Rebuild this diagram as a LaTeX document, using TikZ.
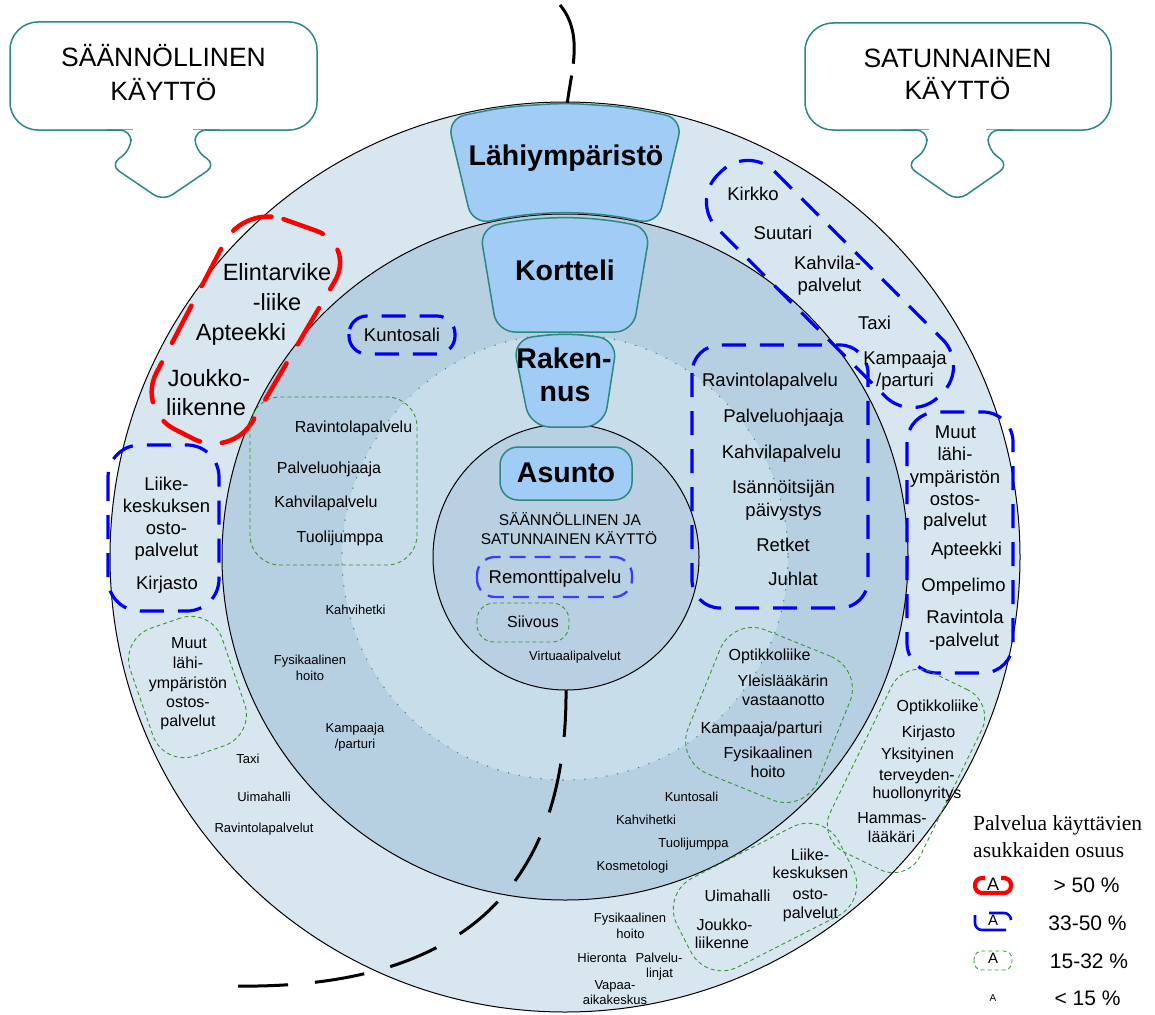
\documentclass[tikz,border=0pt]{standalone}
\usepackage{fontspec}
\setmainfont{Liberation Sans}
\newfontfamily\legserif{Liberation Serif}
\definecolor{ringO}{RGB}{216,230,240}
\definecolor{ringM}{RGB}{182,207,225}
\definecolor{ringI}{RGB}{200,221,234}
\definecolor{ringA}{RGB}{184,208,226}
\definecolor{shapef}{RGB}{160,204,246}
\definecolor{tealb}{RGB}{45,135,130}
\definecolor{dblue}{RGB}{0,0,245}
\definecolor{mblue}{RGB}{60,60,255}
\definecolor{dgreen}{RGB}{55,150,55}
\definecolor{dotteal}{RGB}{60,140,140}
\begin{document}
\begin{tikzpicture}[x=1pt,y=-1pt,
  ring/.style={draw=black, line width=1pt},
  shp/.style={fill=shapef, draw=tealb, line width=1.5pt},
  callout/.style={draw=tealb, line width=1.5pt, fill=white},
  redd/.style={draw=red, line width=4.5pt, dash pattern=on 42pt off 22pt, line cap=round},
  blued/.style={draw=dblue, line width=3.2pt, dash pattern=on 24pt off 14pt},
  greend/.style={draw=dgreen, line width=0.9pt, dash pattern=on 4pt off 3pt},
  blackd/.style={draw=black, line width=3pt, dash pattern=on 50pt off 27pt},
  dotc/.style={draw=dotteal, line width=1.6pt, dash pattern=on 0.01pt off 11pt, line cap=round},
  lbl/.style={inner sep=0pt, text depth=0pt, text=black},
  fS/.style={lbl, font=\fontsize{13}{15}\selectfont, text height=9.3pt},
  fM/.style={lbl, font=\fontsize{16}{18}\selectfont, text height=11.5pt},
  fL/.style={lbl, font=\fontsize{18.5}{21}\selectfont, text height=13.3pt},
  fT/.style={lbl, font=\fontsize{15.5}{18}\selectfont, text height=11.1pt},
  fX/.style={lbl, font=\fontsize{23.5}{26}\selectfont, text height=16.9pt},
  fC/.style={lbl, font=\fontsize{26.5}{30}\selectfont, text height=19pt},
  fB/.style={lbl, font=\fontsize{28.5}{32}\selectfont\bfseries, text height=20.4pt},
  fG/.style={lbl, font=\fontsize{21}{24}\selectfont, text height=15pt}
]
\useasboundingbox (0,0) rectangle (1155,1014);

% ---------- rings
\coordinate (C) at (565,557);
\draw[ring, fill=ringO] (C) circle[radius=455];
\draw[ring, fill=ringM] (C) circle[radius=343];
\fill[ringI] (C) circle[radius=223];
\draw[dotc] (C) circle[radius=223];

% ---------- dashed black line
\draw[blackd] (566,687) .. controls (568,880) and (470,990) .. (233,986);
\draw[blackd, dash pattern=on 62pt off 12pt] (560,5) .. controls (585,35) and (570,75) .. (567,106);

\draw[ring, fill=ringA] (566,557) circle[radius=133];

% ---------- level shapes
\draw[shp, rounded corners=18pt] (447.2,118.5) -- (505.6,106.9) -- (565,103) -- (624.4,106.9) -- (682.8,118.5)
  -- (657.5,224.6) -- (611.7,215.1) -- (565,212) -- (518.3,215.1) -- (472.5,224.6) -- cycle;
\draw[shp, rounded corners=18pt] (479.6,227.9) -- (522.0,219.7) -- (565,217) -- (608,219.7) -- (650.4,227.9)
  -- (633,332) -- (497,332) -- cycle;
\draw[shp, rounded corners=20pt] (512.5,339.2) -- (565,333) -- (617.5,339.2) -- (604,427) -- (530,427) -- cycle;
\node[shp, rounded corners=18pt, minimum width=132pt, minimum height=53pt, inner sep=0pt] (asuntobox) at (566,473.5) {};

\node[fB] (lahi) at (566,155) {Lähiympäristö};
\node[fB] (kort) at (565,270) {Kortteli};
\node[fB] (rak1) at (564,358) {Raken-};
\node[fB] (rak2) at (565,391) {nus};
\node[fB] (asunto) at (566,472) {Asunto};

% ---------- red outline (>50 %)
\draw[redd, rounded corners=42pt] (244,205) -- (356,245) -- (231,458) -- (137,410) -- cycle;

% ---------- blue outlines (33-50 %)
\draw[blued, rounded corners=18pt] (349,316) rectangle (455,354);
\draw[blued, draw=mblue, line width=2.3pt, dash pattern=on 16pt off 9pt, rounded corners=18pt] (477,557) rectangle (632,597);
\draw[blued, rounded corners=28pt] (692,345) rectangle (868,608);
\draw[blued, rounded corners=32pt] (108,445) rectangle (219,611);
\draw[blued, rounded corners=30pt] (907,412) rectangle (1013,673);
\draw[blued, rounded corners=38pt] (747.9,144.7) -- (969.3,366.1) -- (912.1,423.3) -- (690.7,201.9) -- cycle;

% ---------- green outlines (15-32 %)
\draw[greend, rounded corners=30pt] (250,397) rectangle (417,565);
\draw[greend, rounded corners=17pt] (477,603) rectangle (569,642);
\node[greend, rounded corners=33pt, minimum width=97pt, minimum height=135pt, rotate=19] (g1) at (187.5,687) {};
\node[greend, rounded corners=35pt, minimum width=140pt, minimum height=155pt, rotate=-22] (g2) at (769,715) {};
\node[greend, rounded corners=30pt, minimum width=100pt, minimum height=200pt, rotate=-26] (g3) at (906,771) {};
\node[greend, rounded corners=35pt, minimum width=182pt, minimum height=100pt, rotate=27] (g4) at (765,897) {};

% ---------- callouts
\draw[callout, rounded corners=28pt] (10,22) rectangle (317,130);
\fill[white] (133,126) rectangle (193,136);
\draw[callout, rounded corners=11pt] (220,130) -- (195,130) -- (195,150) -- (216,165) -- (163,201) -- (110,165) -- (131,150) -- (131,130) -- (106,130);
\node[fC] (cL1) at (163.5,57.5) {SÄÄNNÖLLINEN};
\node[fC] (cL2) at (163.5,91) {KÄYTTÖ};

\draw[callout, rounded corners=28pt] (805,23) rectangle (1111,130);
\fill[white] (929,126) rectangle (986,136);
\draw[callout, rounded corners=11pt] (1013,130) -- (988,130) -- (988,150) -- (1009,165) -- (957.5,201) -- (906,165) -- (927,150) -- (927,130) -- (902,130);
\node[fC] (cR1) at (957.5,58) {SATUNNAINEN};
\node[fC] (cR2) at (957.5,90) {KÄYTTÖ};

% ---------- outer ring, left
\node[fX] (elin) at (277,272) {Elintarvike};
\node[fX] (liike) at (277,302) {-liike};
\node[fX] (aptL) at (241,332) {Apteekki};
\node[fX] (joukL) at (209,378) {Joukko-};
\node[fX] (liikL) at (206,407) {liikenne};

\node[fL] (lkL1) at (166.5,484) {Liike-};
\node[fL] (lkL2) at (166.5,506) {keskuksen};
\node[fL] (lkL3) at (166.5,528) {osto-};
\node[fL] (lkL4) at (166.5,550) {palvelut};
\node[fL] (kirL) at (167,583) {Kirjasto};

\node[fM] (muL1) at (189,643) {Muut};
\node[fM] (muL2) at (188,663) {lähi-};
\node[fM] (muL3) at (188,683) {ympäristön};
\node[fM] (muL4) at (188,702) {ostos-};
\node[fM] (muL5) at (188,721) {palvelut};

\node[fS] (taxL) at (248,759) {Taxi};
\node[fS] (uimL) at (264,797) {Uimahalli};
\node[fS] (ravL) at (264,828) {Ravintolapalvelut};

% ---------- middle ring, left
\node[fL] (kunt) at (402,335) {Kuntosali};
\node[fM] (gi1) at (353.5,427) {Ravintolapalvelu};
\node[fM] (gi2) at (329,468) {Palveluohjaaja};
\node[fM] (gi3) at (326,502) {Kahvilapalvelu};
\node[fM] (gi4) at (340,537) {Tuolijumppa};
\node[fS] (khL) at (355.5,610) {Kahvihetki};
\node[fS] (fyL1) at (310,660) {Fysikaalinen};
\node[fS] (fyL2) at (310,676) {hoito};
\node[fS] (kaL1) at (355,728) {Kampaaja};
\node[fS] (kaL2) at (355,744) {/parturi};

% ---------- Asunto circle
\node[fT] (as1) at (570,520) {SÄÄNNÖLLINEN JA};
\node[fT] (as2) at (569,539) {SATUNNAINEN KÄYTTÖ};
\node[fL] (remo) at (555,577) {Remonttipalvelu};
\node[fM] (siiv) at (533,622) {Siivous};
\node[fS] (virt) at (575,656) {Virtuaalipalvelut};

% ---------- blue right big
\node[fL] (br1) at (770,380) {Ravintolapalvelu};
\node[fL] (br2) at (783.5,416) {Palveluohjaaja};
\node[fL] (br3) at (781.5,452) {Kahvilapalvelu};
\node[fL] (br4) at (783.5,487) {Isännöitsijän};
\node[fL] (br5) at (783.5,510) {päivystys};
\node[fL] (br6) at (783,545) {Retket};
\node[fL] (br7) at (793,579) {Juhlat};

% ---------- blue right outer
\node[fL] (bo1) at (955.5,432) {Muut};
\node[fL] (bo2) at (955,454) {lähi-};
\node[fL] (bo3) at (955,477) {ympäristön};
\node[fL] (bo4) at (955,499) {ostos-};
\node[fL] (bo5) at (955,520) {palvelut};
\node[fL] (bo6) at (966.5,549) {Apteekki};
\node[fL] (bo7) at (963.5,585) {Ompelimo};
\node[fL] (bo8) at (965,617) {Ravintola};
\node[fL] (bo9) at (964,640) {-palvelut};

% ---------- blue top right
\node[fL] (bt1) at (753,194) {Kirkko};
\node[fL] (bt2) at (783,233) {Suutari};
\node[fL] (bt3) at (827.5,263) {Kahvila-};
\node[fL] (bt4) at (829.5,285) {palvelut};
\node[fL] (bt5) at (874.5,323) {Taxi};
\node[fL] (bt6) at (905,358) {Kampaaja};
\node[fL] (bt7) at (905,380) {/parturi};

% ---------- green right inner
\node[fM] (gr1) at (769.5,655) {Optikkoliike};
\node[fM] (gr2) at (783,681) {Yleislääkärin};
\node[fM] (gr3) at (783.5,700) {vastaanotto};
\node[fM] (gr4) at (761.5,728) {Kampaaja/parturi};
\node[fM] (gr5) at (768,753) {Fysikaalinen};
\node[fM] (gr6) at (768,772) {hoito};

% ---------- green right outer
\node[fM] (go1) at (937.5,706) {Optikkoliike};
\node[fM] (go2) at (928.5,732) {Kirjasto};
\node[fM] (go3) at (917.5,754) {Yksityinen};
\node[fM] (go4) at (917,775) {terveyden-};
\node[fM] (go5) at (917,793) {huollonyritys};
\node[fM] (go6) at (892,818) {Hammas-};
\node[fM] (go7) at (891.5,837) {lääkäri};

% ---------- green bottom
\node[fM] (gb1) at (737.5,896) {Uimahalli};
\node[fM] (gb2) at (724.5,925) {Joukko-};
\node[fM] (gb3) at (722,943) {liikenne};
\node[fM] (gb4) at (810,855) {Liike-};
\node[fM] (gb5) at (810.5,873) {keskuksen};
\node[fM] (gb6) at (810.5,894) {osto-};
\node[fM] (gb7) at (810.5,913) {palvelut};

% ---------- small texts bottom
\node[fS] (sb1) at (691.5,797) {Kuntosali};
\node[fS] (sb2) at (646,820) {Kahvihetki};
\node[fS] (sb3) at (693.5,843) {Tuolijumppa};
\node[fS] (sb4) at (632.5,866) {Kosmetologi};
\node[fS] (sb5) at (630,918) {Fysikaalinen};
\node[fS] (sb6) at (630.5,934) {hoito};
\node[fS] (sb7) at (602,958) {Hieronta};
\node[fS] (sb8) at (659,958) {Palvelu-};
\node[fS] (sb9) at (659.5,973) {linjat};
\node[fS] (sb10) at (615,985) {Vapaa-};
\node[fS] (sb11) at (615,1000) {aikakeskus};

% ---------- legend
\node[lbl, anchor=base west, font=\legserif\fontsize{21.5}{24}\selectfont] (lt1) at (973,830) {Palvelua käyttävien};
\node[lbl, anchor=base west, font=\legserif\fontsize{21.5}{24}\selectfont] (lt2) at (973,857) {asukkaiden osuus};

\draw[red, line width=4.2pt, rounded corners=7pt] (985,878) -- (975,878) -- (975,893) -- (1011,893) -- (1011,878) -- (1001,878);
\draw[dblue, line width=2.6pt, rounded corners=7pt] (975,915) -- (975,930) -- (1006,930);
\draw[dblue, line width=2.6pt, rounded corners=7pt] (989,913) -- (1011,913) -- (1011,920);
\draw[greend, rounded corners=8pt] (974,951) rectangle (1012,970);

\node[lbl, font=\fontsize{18}{20}\selectfont, text height=13pt] (la1) at (993,884) {A};
\node[lbl, font=\fontsize{15}{17}\selectfont, text height=10.8pt] (la2) at (993,920) {A};
\node[lbl, font=\fontsize{15}{17}\selectfont, text height=10.8pt] (la3) at (993,958) {A};
\node[lbl, font=\fontsize{10}{12}\selectfont, text height=7.2pt] (la4) at (993,998) {A};

\node[fG] (lp1) at (1086.5,885) {> 50 \%};
\node[fG] (lp2) at (1087.5,923) {33-50 \%};
\node[fG] (lp3) at (1089,961) {15-32 \%};
\node[fG] (lp4) at (1087.5,998) {< 15 \%};
\end{tikzpicture}
\end{document}
